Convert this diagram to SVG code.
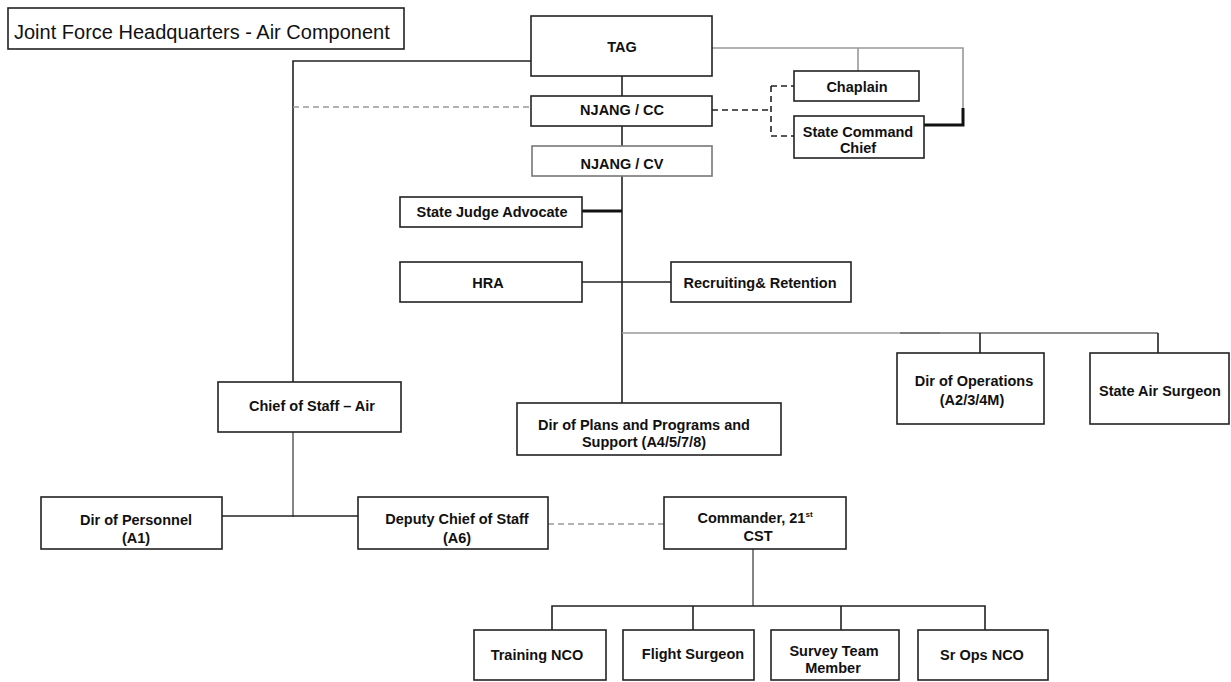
<svg xmlns="http://www.w3.org/2000/svg" width="1231" height="682" viewBox="0 0 1231 682">
<style>
.box{fill:#fff;stroke:#222;stroke-width:1.6}
.lt{stroke:#777}
.t{font-family:"Liberation Sans",Arial,sans-serif;font-weight:bold;font-size:14.5px;fill:#111;text-anchor:middle}
.ttl{font-family:"Liberation Sans",Arial,sans-serif;font-size:20px;fill:#111}
.c{fill:none;stroke:#222;stroke-width:1.6}
.g{fill:none;stroke:#999;stroke-width:1.6}
.m{fill:none;stroke:#666;stroke-width:1.6}
.th{fill:none;stroke:#111;stroke-width:3}
.dg{fill:none;stroke:#999;stroke-width:1.6;stroke-dasharray:6 4}
.dk{fill:none;stroke:#222;stroke-width:1.6;stroke-dasharray:6 4}
</style>
<rect width="1231" height="682" fill="#fff"/>
<g id="connectors">
<path class="c" d="M531 61 H293 V382"/>
<path class="dg" d="M293 107 H531"/>
<path class="c" d="M622 76 V96 M622 126 V146 M622 176 V403"/>
<path class="th" d="M582 211 H622"/>
<path class="c" d="M582 282 H671"/>
<path class="g" d="M622 333 H940"/>
<path class="m" d="M900 333 H1158"/>
<path class="c" d="M980 333 V353 M1158 333 V353"/>
<path class="g" d="M712 48 H963 V110 M858 48 V71"/>
<path class="th" d="M963 108 V125 H924"/>
<path class="dk" d="M712 110 H771 M771 86 H794 M771 86 V136 H794"/>
<path class="m" d="M293 432 V517"/>
<path class="c" d="M222 516 H358"/>
<path class="dg" d="M548 524 H664"/>
<path class="m" d="M753 549 V606"/>
<path class="c" d="M552 630 V606 H985 V630 M693 606 V630 M841 606 V630"/>
</g>
<g id="title"><rect class="box" x="8" y="8" width="396" height="41"/><text class="ttl" x="14" y="39">Joint Force Headquarters - Air Component</text></g>
<g id="tag"><rect class="box" x="531" y="16" width="181" height="60"/><text class="t" x="622" y="52">TAG</text></g>
<g id="njang-cc"><rect class="box" x="531" y="96" width="181" height="30"/><text class="t" x="622" y="115">NJANG / CC</text></g>
<g id="njang-cv"><rect class="box lt" x="532" y="146" width="180" height="30"/><text class="t" x="622" y="169">NJANG / CV</text></g>
<g id="chaplain"><rect class="box" x="794" y="71" width="125" height="30"/><text class="t" x="857" y="92">Chaplain</text></g>
<g id="state-command-chief"><rect class="box" x="794" y="116" width="130" height="42"/><text class="t" x="858" y="137">State Command</text><text class="t" x="858" y="153">Chief</text></g>
<g id="state-judge-advocate"><rect class="box" x="400" y="197" width="182" height="30"/><text class="t" x="492" y="217">State Judge Advocate</text></g>
<g id="hra"><rect class="box" x="400" y="262" width="182" height="40"/><text class="t" x="488" y="288">HRA</text></g>
<g id="recruiting"><rect class="box" x="671" y="262" width="180" height="40"/><text class="t" x="760" y="288">Recruiting&amp; Retention</text></g>
<g id="dir-operations"><rect class="box" x="897" y="353" width="147" height="71"/><text class="t" x="974" y="386">Dir of Operations</text><text class="t" x="972" y="405">(A2/3/4M)</text></g>
<g id="state-air-surgeon"><rect class="box" x="1090" y="353" width="139" height="71"/><text class="t" x="1160" y="396">State Air Surgeon</text></g>
<g id="chief-of-staff"><rect class="box" x="218" y="382" width="183" height="50"/><text class="t" x="312" y="411">Chief of Staff – Air</text></g>
<g id="dir-plans"><rect class="box" x="517" y="403" width="264" height="52"/><text class="t" x="644" y="430">Dir of Plans and Programs and</text><text class="t" x="644" y="447">Support (A4/5/7/8)</text></g>
<g id="dir-personnel"><rect class="box" x="41" y="497" width="181" height="52"/><text class="t" x="136" y="525">Dir of Personnel</text><text class="t" x="136" y="543">(A1)</text></g>
<g id="deputy-chief"><rect class="box" x="358" y="497" width="190" height="52"/><text class="t" x="457" y="524">Deputy Chief of Staff</text><text class="t" x="457" y="543">(A6)</text></g>
<g id="commander"><rect class="box" x="664" y="497" width="182" height="52"/><text class="t" x="755" y="523">Commander, 21<tspan font-size="8" dy="-6">st</tspan></text><text class="t" x="758" y="541">CST</text></g>
<g id="training-nco"><rect class="box" x="474" y="630" width="132" height="50"/><text class="t" x="537" y="660">Training NCO</text></g>
<g id="flight-surgeon"><rect class="box" x="623" y="630" width="131" height="50"/><text class="t" x="693" y="659">Flight Surgeon</text></g>
<g id="survey-team"><rect class="box" x="771" y="630" width="128" height="50"/><text class="t" x="834" y="656">Survey Team</text><text class="t" x="833" y="673">Member</text></g>
<g id="sr-ops-nco"><rect class="box" x="918" y="630" width="130" height="50"/><text class="t" x="982" y="660">Sr Ops NCO</text></g>
</svg>
